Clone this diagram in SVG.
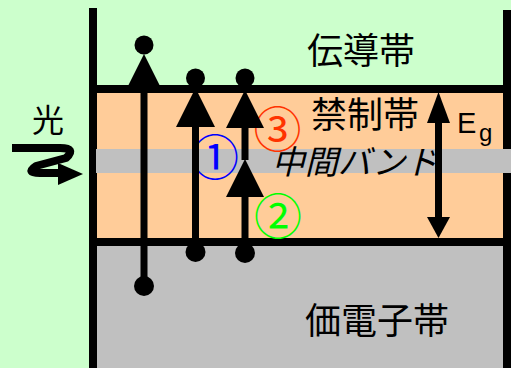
<svg xmlns="http://www.w3.org/2000/svg" width="511" height="368" viewBox="0 0 511 368">
<defs>
<style>
.jp{font-family:"Noto Sans CJK JP","Noto Sans",sans-serif;fill:#000;}
.lat{font-family:"Liberation Sans",Arial,sans-serif;fill:#000;}
.num{font-family:"Noto Sans CJK JP","DejaVu Sans",sans-serif;font-size:48px;text-anchor:middle;}
.ln{stroke:#000;stroke-width:7;fill:none;}
</style>
</defs>
<rect x="0" y="0" width="511" height="368" fill="#CCFFCC"/>
<g id="bands">
<rect x="97" y="93" width="408" height="145" fill="#FFCC99"/>
<rect x="97" y="246" width="408" height="122" fill="#C0C0C0"/>
<rect x="89" y="8" width="8" height="360" fill="#000"/>
<rect x="503" y="10" width="8" height="358" fill="#000"/>
<rect x="89" y="85" width="422" height="8" fill="#000"/>
<rect x="89" y="238" width="422" height="8" fill="#000"/>
<rect x="96" y="149" width="415" height="24" fill="#C0C0C0"/>
</g>
<g id="labels">
<text class="jp" x="361" y="64" font-size="36" text-anchor="middle">伝導帯</text>
<text class="jp" x="365" y="128" font-size="36" text-anchor="middle">禁制帯</text>
<text class="jp" x="355" y="174" font-size="33" text-anchor="middle" font-style="italic">中間バンド</text>
<text class="jp" x="377" y="334" font-size="36" text-anchor="middle">価電子帯</text>
<text class="jp" x="48" y="132" font-size="32" text-anchor="middle">光</text>
<text class="lat" x="457" y="133" font-size="29">E</text>
<text class="lat" x="479" y="141" font-size="24">g</text>
<text class="num" x="215" y="175" fill="#0000FF">①</text>
<text class="num" x="277.5" y="147" fill="#FF3300">③</text>
<text class="num" x="278" y="234" fill="#00FF00">②</text>
</g>
<g id="connectors">
<line class="ln" x1="144" y1="286" x2="144" y2="80"/>
<polygon points="144,54 160,86 128,86"/>
<circle cx="144" cy="45" r="9.5"/>
<circle cx="144" cy="286" r="10"/>
<line class="ln" x1="195.5" y1="252" x2="195.5" y2="120"/>
<polygon points="195.5,88 215,127 176,127"/>
<circle cx="195.5" cy="78" r="9.5"/>
<circle cx="195.5" cy="252" r="10"/>
<line class="ln" x1="245" y1="253" x2="245" y2="190"/>
<polygon points="245,159 264,197 226,197"/>
<line class="ln" x1="245" y1="160" x2="245" y2="120"/>
<polygon points="245,90 264,128 226,128"/>
<circle cx="245" cy="78" r="9.5"/>
<circle cx="245" cy="253" r="10"/>
<line class="ln" x1="438.5" y1="118" x2="438.5" y2="222"/>
<polygon points="438.5,92 450,123 427,123"/>
<polygon points="438.5,238 450,217 427,217"/>
<path d="M12,148 H60 Q77,148 66,158 L36,166 Q25,173 40,173 H62" fill="none" stroke="#000" stroke-width="8" stroke-linejoin="round"/>
<polygon points="58,163 83,174 58,185"/>
</g>
</svg>
